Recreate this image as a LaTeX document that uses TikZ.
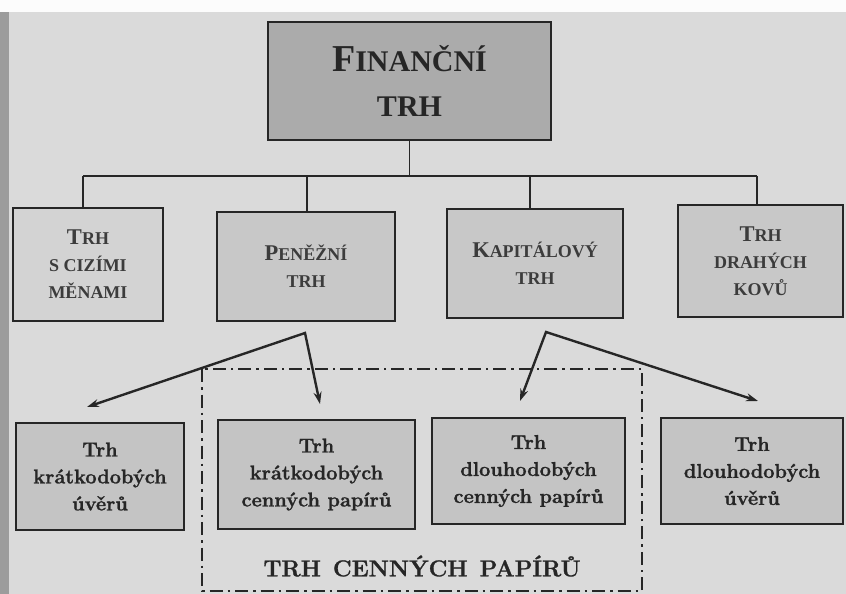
\documentclass[tikz,border=0pt]{standalone}
\usepackage{fontspec}
\setmainfont{Latin Modern Roman}[BoldFeatures={FakeBold=1.2}]
\newfontfamily\capsfont{Liberation Serif}
\usetikzlibrary{arrows.meta}
\definecolor{pagebg}{HTML}{DADADA}
\definecolor{edgebg}{HTML}{9C9C9C}
\definecolor{topfill}{HTML}{ABABAB}
\definecolor{midfill}{HTML}{C8C8C8}
\definecolor{lowfill}{HTML}{C4C4C4}
\definecolor{ink}{HTML}{262626}
\newcommand\BigL[2]{{\fontsize{#1}{#1}\selectfont #2}}
\tikzset{
  topbox/.style={draw=ink, line width=2.6pt, fill=topfill, inner sep=0pt, align=center,
    font=\capsfont\bfseries\fontsize{30}{45}\selectfont, text=ink},
  midbox/.style={draw=ink, line width=2.6pt, fill=midfill, inner sep=0pt, align=center,
    font=\capsfont\bfseries\fontsize{18}{27}\selectfont, text=ink!90},
  lowbox/.style={draw=ink, line width=2.6pt, fill=lowfill, inner sep=0pt, align=center,
    font=\bfseries\fontsize{20}{27}\selectfont, text=ink},
  bus/.style={draw=ink, line width=1.6pt},
  arr/.style={draw=ink, line width=2.4pt, {Stealth[length=12pt,width=8pt]}-{Stealth[length=12pt,width=8pt]}},
  zone/.style={draw=ink, line width=2.8pt, dash pattern=on 13pt off 5pt on 2.5pt off 5pt}
}
\begin{document}
\begin{tikzpicture}[x=1pt,y=-1pt]
\fill[pagebg] (0,0) rectangle (846,594);
\fill[white!92!pagebg] (0,0) rectangle (846,12);
\fill[edgebg] (0,12) rectangle (9,594);
\useasboundingbox (0,0) rectangle (846,594);

% top
\node[topbox, minimum width=283pt, minimum height=118pt] (top) at (409.5,81)
  {\BigL{38}{F}INANČNÍ\\TRH};

% second row
\node[midbox, minimum width=150pt, minimum height=113pt, fill=midfill!80!white] (s1) at (88,264.5)
  {\BigL{22.5}{T}RH\\S CIZÍMI\\MĚNAMI};
\node[midbox, minimum width=178pt, minimum height=109pt] (s2) at (306,266.5)
  {\BigL{22.5}{P}ENĚŽNÍ\\TRH};
\node[midbox, minimum width=176pt, minimum height=109pt] (s3) at (535,263.5)
  {\BigL{22.5}{K}APITÁLOVÝ\\TRH};
\node[midbox, minimum width=165pt, minimum height=112pt] (s4) at (760.5,261)
  {\BigL{22.5}{T}RH\\DRAHÝCH\\KOVŮ};

% bus
\coordinate (b1) at (83,176);
\coordinate (b2) at (307,176);
\coordinate (b3) at (530,176);
\coordinate (b4) at (757,176);
\draw[bus] (top.south) -- (top.south |- b1);
\draw[bus] (b1) -- (b4);
\draw[bus] (b1) -- (b1 |- s1.north);
\draw[bus] (b2) -- (b2 |- s2.north);
\draw[bus] (b3) -- (b3 |- s3.north);
\draw[bus] (b4) -- (b4 |- s4.north);

% security market zone
\draw[zone] (202,369) rectangle (642,591);
\node[font=\bfseries\fontsize{23}{23}\selectfont, text=ink] (zl) at (422,566)
  {TRH\hspace{12pt}CENNÝCH\hspace{12pt}PAPÍRŮ};

% bottom row
\node[lowbox, minimum width=168pt, minimum height=107pt] (t1) at (100,476.5)
  {Trh\\krátkodobých\\úvěrů};
\node[lowbox, minimum width=197pt, minimum height=109pt] (t2) at (316.5,474.5)
  {Trh\\krátkodobých\\cenných papírů};
\node[lowbox, minimum width=193pt, minimum height=106pt] (t3) at (528.5,471)
  {Trh\\dlouhodobých\\cenných papírů};
\node[lowbox, minimum width=182pt, minimum height=106pt] (t4) at (752,471)
  {Trh\\dlouhodobých\\úvěrů};

% arrows
\coordinate (p1) at (305,333);
\coordinate (p2) at (546,332);
\coordinate (e1) at (87,407);
\coordinate (e2) at (320,404);
\coordinate (e3) at (520,401);
\coordinate (e4) at (758,401);
\draw[arr] (e1) -- (p1) -- (e2);
\draw[arr] (e3) -- (p2) -- (e4);
\end{tikzpicture}
\end{document}
